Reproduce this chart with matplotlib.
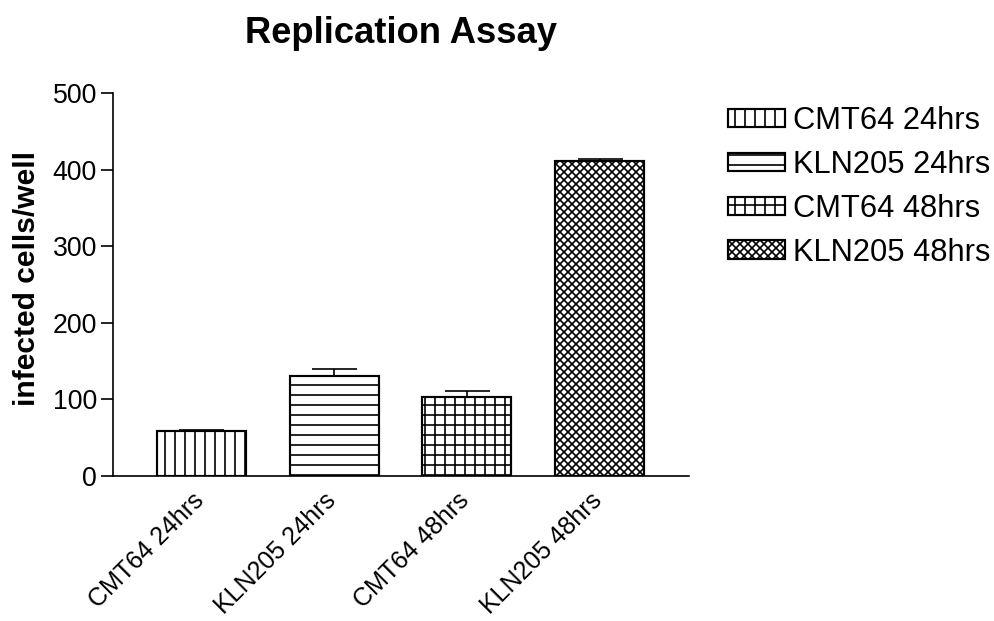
import matplotlib
matplotlib.use("Agg")
import matplotlib.pyplot as plt
from matplotlib.transforms import ScaledTranslation

# Replication assay: infected cells per well for each line / time point
categories = ["CMT64 24hrs", "KLN205 24hrs", "CMT64 48hrs", "KLN205 48hrs"]
means = [59, 130, 103.5, 411.5]
sem = [1, 10, 8, 2]
hatches = ["||", "--", "++", "xxxxx"]
y_ticks = [0, 100, 200, 300, 400, 500]

plt.rcParams["font.family"] = ["Liberation Sans", "DejaVu Sans"]
plt.rcParams["hatch.linewidth"] = 1.0
plt.rcParams["hatch.color"] = "black"

DPI = 120
fig = plt.figure(figsize=(995 / DPI, 621 / DPI), dpi=DPI)
ax = fig.add_axes([113 / 995, 1 - 476 / 621, 576 / 995, 383 / 621])

x = list(range(len(categories)))
bars = ax.bar(x, means, width=0.67, color="white", edgecolor="black",
              linewidth=1.3, zorder=2)
for b, h, lab in zip(bars, hatches, categories):
    b.set_hatch(h)
    b.set_label(lab)

ax.errorbar(x, means, yerr=[[0] * len(sem), sem], fmt="none", ecolor="black",
            elinewidth=1.0, capsize=13.5, capthick=1.0, zorder=3)

ax.set_xlim(-0.665, 3.673)
ax.set_ylim(0, 500)
ax.set_yticks(y_ticks)
ax.set_xticks(x)
ax.set_xticklabels([])

# category names, slanted and ending just left of each bar centre
label_trans = ax.get_xaxis_transform() + ScaledTranslation(
    -10 / DPI, -12 / DPI, fig.dpi_scale_trans)
for xi, lab in zip(x, categories):
    ax.text(xi, 0, lab, transform=label_trans, rotation=45, ha="right",
            va="top", rotation_mode="anchor", fontsize=15, clip_on=False)

ax.tick_params(axis="y", length=7.2, width=1.0, pad=2.4, labelsize=16)
ax.tick_params(axis="x", length=0)
for s in ("top", "right"):
    ax.spines[s].set_visible(False)
for s in ("left", "bottom"):
    ax.spines[s].set_linewidth(1.0)
ax.spines["left"].set_bounds(0, 500)

fig.text(401 / 995, 1 - 43 / 621, "Replication Assay", ha="center",
         va="baseline", fontsize=21.8, fontweight="bold")
fig.text(27 / 995, 1 - 278 / 621, "infected cells/well", ha="center",
         va="center", rotation=90, fontsize=18, fontweight="bold")

ax.legend(handles=list(bars), loc="upper left",
          bbox_to_anchor=(728 / 995, 1 - 106 / 621),
          bbox_transform=fig.transFigure, frameon=False, fontsize=18.5,
          handlelength=1.84, handleheight=0.55, handletextpad=0.26,
          labelspacing=0.45, borderpad=0, borderaxespad=0)

fig.savefig("out.png", dpi=DPI)
